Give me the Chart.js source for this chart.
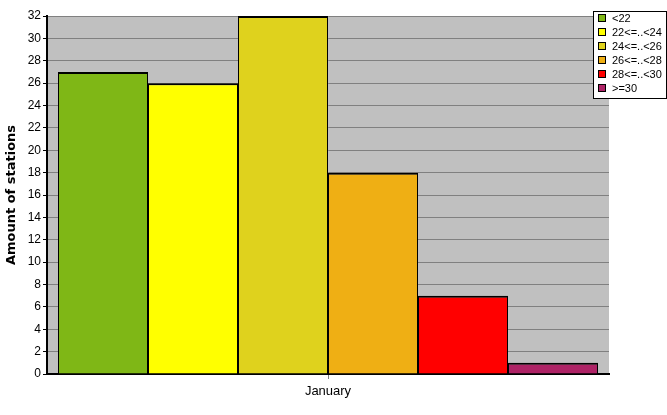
<!DOCTYPE html>
<html>
<head>
<meta charset="utf-8">
<script src="https://cdn.jsdelivr.net/npm/chart.js@4"></script>
<style>
  html, body { margin: 0; padding: 0; background: #fff; }
  #wrap { width: 667px; height: 415px; position: relative; }
</style>
</head>
<body>
<div id="wrap"><canvas id="chart" width="667" height="415"></canvas></div>
<script>
const months = ["January"];
const classes = ["<22", "22<=..<24", "24<=..<26", "26<=..<28", "28<=..<30", ">=30"];
const stationCounts = [27, 26, 32, 18, 7, 1];
const classColors = ["#7FB716", "#FFFF00", "#DFD21D", "#EFAF14", "#FF0000", "#AE2366"];
const yTicks = { min: 0, max: 32, step: 2 };

// grey plot background
const plotBg = {
    id: "plotBg",
    beforeDraw(chart) {
        const { ctx, chartArea: a } = chart;
        ctx.save();
        ctx.fillStyle = "#C0C0C0";
        ctx.fillRect(a.left, a.top, a.right - a.left, a.bottom - a.top);
        ctx.restore();
    }
};

// boxed legend in the top right corner
const boxLegend = {
    id: "boxLegend",
    afterDraw(chart) {
        const ctx = chart.ctx;
        const x = 593.5, y = 11.5, w = 73, h = 87;
        ctx.save();
        ctx.fillStyle = "#fff";
        ctx.fillRect(x, y, w, h);
        ctx.strokeStyle = "#000";
        ctx.lineWidth = 1;
        ctx.strokeRect(x, y, w, h);
        ctx.font = "11px 'Liberation Sans', Arial, sans-serif";
        ctx.textBaseline = "middle";
        chart.data.datasets.forEach((ds, i) => {
            const cy = 18 + i * 14;
            ctx.fillStyle = ds.backgroundColor;
            ctx.fillRect(598, cy - 4, 8, 8);
            ctx.strokeRect(598.5, cy - 3.5, 7, 7);
            ctx.fillStyle = "#000";
            ctx.fillText(ds.label, 612, cy + 1);
        });
        ctx.restore();
    }
};

const ctx = document.getElementById("chart").getContext("2d");
new Chart(ctx, {
    type: "bar",
    data: {
        labels: months,
        datasets: classes.map((c, i) => ({
            label: c,
            data: [stationCounts[i]],
            backgroundColor: classColors[i],
            borderColor: "#000",
            borderWidth: { top: 2, left: 1, right: 1, bottom: 0 }
        }))
    },
    options: {
        responsive: false,
        animation: false,
        events: [],
        layout: { padding: { left: 0, right: 58, top: 16, bottom: 0 } },
        datasets: { bar: { categoryPercentage: 540 / 562, barPercentage: 1 } },
        plugins: { legend: { display: false }, tooltip: { enabled: false } },
        scales: {
            x: {
                grid: { drawOnChartArea: false, offset: false, tickLength: 5, tickColor: "#808080" },
                border: { color: "#000", width: 2 },
                ticks: { color: "#000", font: { family: "'Liberation Sans', Arial, sans-serif", size: 13 }, padding: 5 },
                afterFit(s) { s.height = 41; }
            },
            y: {
                min: yTicks.min,
                max: yTicks.max,
                ticks: { stepSize: yTicks.step, color: "#000", font: { family: "'Liberation Sans', Arial, sans-serif", size: 12 }, padding: 2 },
                grid: { color: "#808080", tickColor: "#000", tickLength: 4 },
                border: { color: "#000", width: 2 },
                title: { display: true, text: "Amount of stations", color: "#000", font: { family: "'DejaVu Sans', Verdana, sans-serif", size: 13, weight: "bold" }, padding: { top: 4, bottom: 0 } },
                afterFit(s) { s.width = 47; }
            }
        }
    },
    plugins: [plotBg, boxLegend]
});
</script>
</body>
</html>
